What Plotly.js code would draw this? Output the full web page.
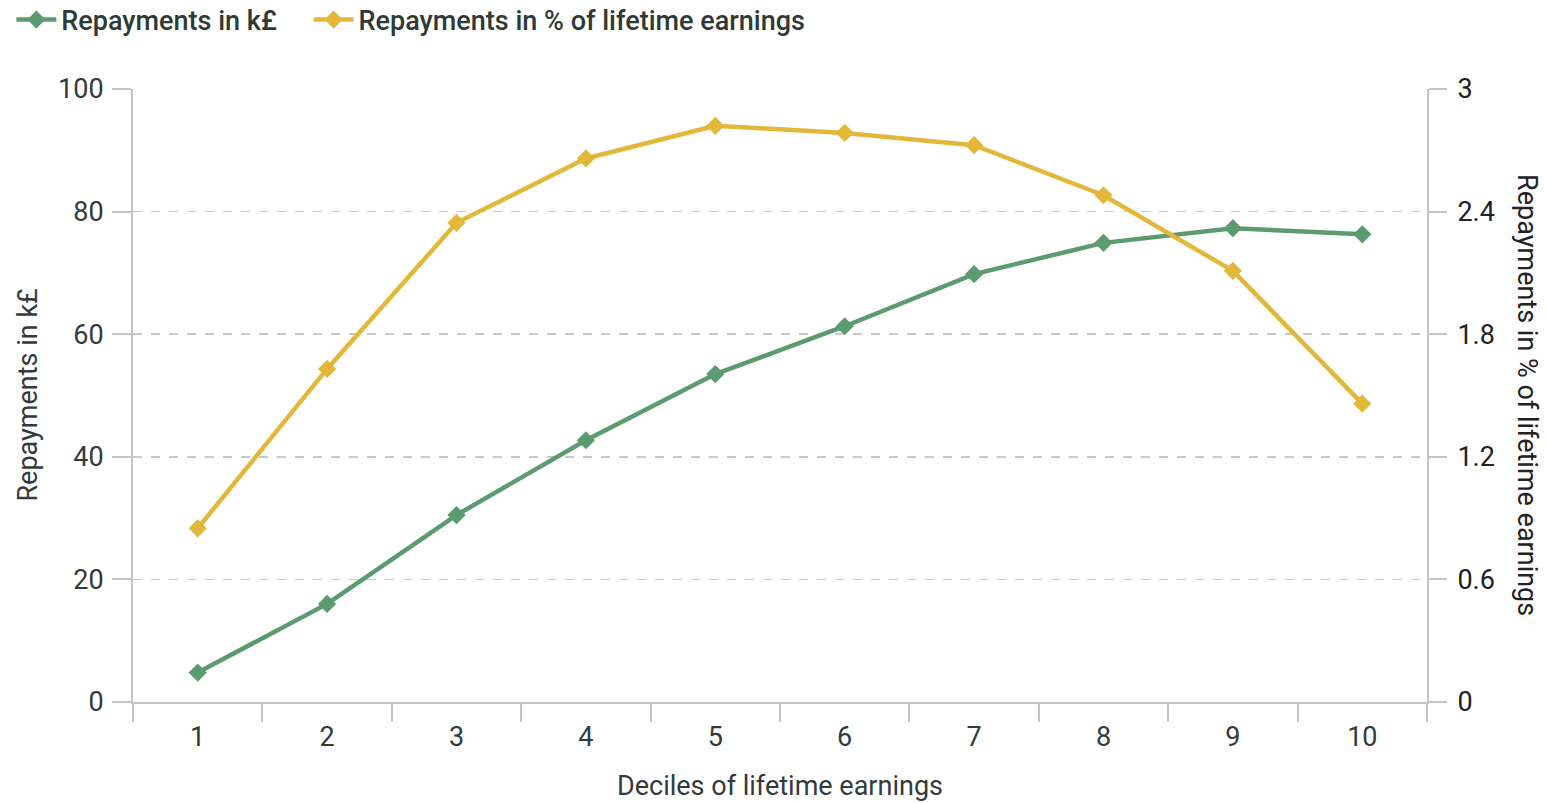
<!DOCTYPE html>
<html>
<head>
<meta charset="utf-8">
<script src="https://cdn.plot.ly/plotly-3.0.1.min.js"></script>
<style>html,body{margin:0;padding:0;background:#fff;}#chart{width:1548px;height:803px;}</style>
</head>
<body>
<div id="chart"></div>
<script>
const deciles = ["1","2","3","4","5","6","7","8","9","10"];
const repaymentsK = [4.8, 16.0, 30.5, 42.7, 53.5, 61.3, 69.8, 74.9, 77.3, 76.3];
const repaymentsPct = [0.85, 1.63, 2.345, 2.66, 2.82, 2.785, 2.725, 2.48, 2.11, 1.46];
const leftTicks = [0, 20, 40, 60, 80, 100];
const rightTicks = [0, 0.6, 1.2, 1.8, 2.4, 3];
const seriesNames = ["Repayments in k£", "Repayments in % of lifetime earnings"];

const green = "#5c9a70";
const gold = "#e3b83a";
const txt = "#333a3a";
const axisCol = "#c4c4c4";
const font = "Roboto, 'Open Sans', sans-serif";

const traces = [
  {x: deciles, y: repaymentsK, name: seriesNames[0] + "\u00a0\u00a0\u00a0\u00a0", type: "scatter", mode: "lines+markers",
   line: {color: green, width: 4.5}, marker: {symbol: "diamond", size: 14, color: green}, yaxis: "y"},
  {x: deciles, y: repaymentsPct, name: seriesNames[1], type: "scatter", mode: "lines+markers",
   line: {color: gold, width: 4.5}, marker: {symbol: "diamond", size: 14, color: gold}, yaxis: "y2"}
];

const layout = {
  width: 1548, height: 803,
  margin: {l: 133, r: 121, t: 89, b: 101, autoexpand: false},
  paper_bgcolor: "#fff", plot_bgcolor: "#fff",
  font: {family: font, color: txt, size: 27},
  showlegend: true,
  legend: {orientation: "h", x: -0.094, xanchor: "left", y: 1.1126, yanchor: "middle",
           font: {family: font, size: 27, color: "#2f3a36", weight: 500}, itemwidth: 40,
           traceorder: "normal"},
  xaxis: {type: "category", range: [-0.5, 9.5], showline: true, linecolor: axisCol, linewidth: 2,
          ticks: "outside", tickson: "boundaries", ticklen: 18, tickcolor: axisCol, tickwidth: 2,
          showgrid: false, zeroline: false, tickfont: {size: 27, color: txt}, ticklabelstandoff: 10},
  yaxis: {range: [0, 100], tickvals: leftTicks, showline: true, linecolor: axisCol, linewidth: 2,
          ticks: "outside", ticklen: 19, tickcolor: axisCol, tickwidth: 2,
          showgrid: true, gridcolor: "#c8c8c8", griddash: "dash", gridwidth: 1.5, zeroline: false,
          tickfont: {size: 27, color: txt}, ticklabelstandoff: 3},
  yaxis2: {range: [0, 3], tickvals: rightTicks, overlaying: "y", side: "right", showline: true,
           linecolor: axisCol, linewidth: 2, ticks: "outside", ticklen: 18, tickcolor: axisCol, tickwidth: 2,
           showgrid: false, zeroline: false, tickfont: {size: 27, color: "#222"}, ticklabelstandoff: 5},
  annotations: [
    {text: "Repayments in % of lifetime earnings", xref: "paper", yref: "paper", x: 1.0776, y: 0.5,
     xanchor: "center", yanchor: "middle", textangle: 90, showarrow: false,
     font: {size: 27, color: "#222"}},
    {text: "Repayments in k£", xref: "paper", yref: "paper", x: -0.0819, y: 0.5,
     xanchor: "center", yanchor: "middle", textangle: -90, showarrow: false,
     font: {size: 27, color: txt}},
    {text: "Deciles of lifetime earnings", xref: "paper", yref: "paper", x: 0.5, y: -0.137,
     xanchor: "center", yanchor: "middle", showarrow: false,
     font: {size: 27, color: txt}}
  ]
};

Plotly.newPlot("chart", traces, layout, {displayModeBar: false, staticPlot: true});
</script>
</body>
</html>
